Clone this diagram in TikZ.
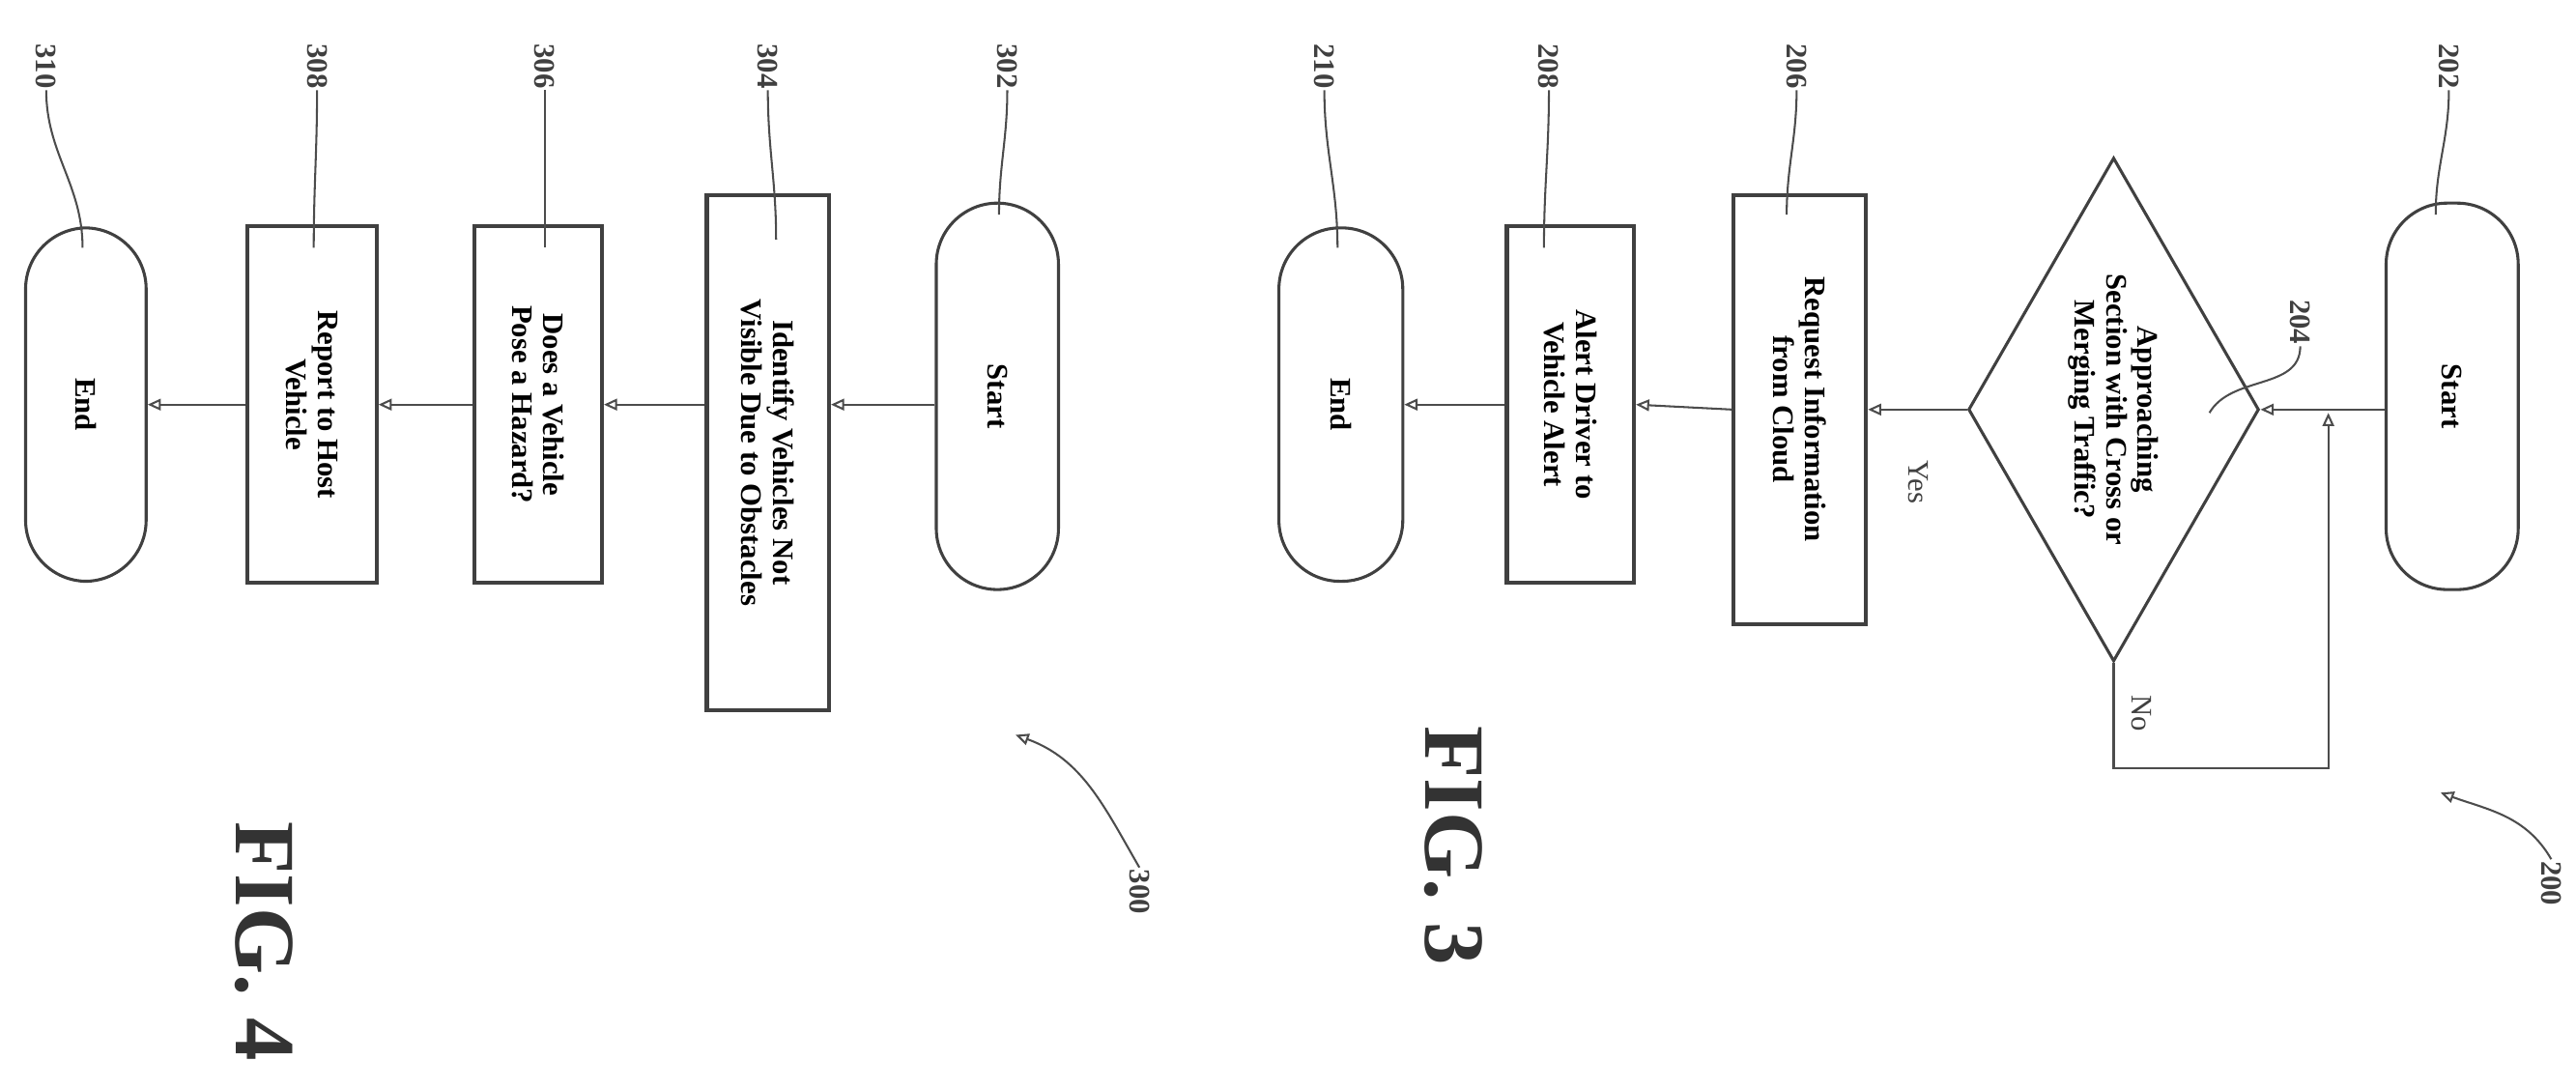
\documentclass[tikz,border=0pt]{standalone}
\usepackage{fontspec}
\setmainfont{Liberation Serif}
\usetikzlibrary{shapes.geometric,arrows.meta,positioning}
\tikzset{
  box/.style={draw=black!75,line width=2.4pt,rotate=-90,align=center,font=\fontsize{18}{19}\selectfont\bfseries,inner sep=0pt},
  term/.style={box,rounded corners=37pt,line width=1.8pt},
  ref/.style={rotate=-90,font=\fontsize{18}{18}\selectfont\bfseries,text=black!75,inner sep=1pt},
  lead/.style={draw=black!70,line width=1.2pt},
  flow/.style={draw=black!70,line width=1.2pt,-{Triangle[open,length=8pt,width=7pt]}},
  fig/.style={rotate=-90,font=\fontsize{52}{52}\selectfont\bfseries,text=black!80}
}
\begin{document}
\begin{tikzpicture}[x=1pt,y=-1pt]
\useasboundingbox (0,0) rectangle (1560,660);
% FIG 3
\node[term,minimum width=234,minimum height=80] (s2) at (1485,240) {Start};
\node[box,diamond,line width=1.8pt,minimum width=305,minimum height=176,inner sep=-30pt] (d2) at (1280,248) {Approaching\\Section with Cross or\\Merging Traffic?};
\node[box,minimum width=260,minimum height=80] (r2) at (1090,248) {Request Information\\from Cloud};
\node[box,minimum width=216,minimum height=77] (a2) at (951,245) {Alert Driver to\\Vehicle Alert};
\node[term,minimum width=214,minimum height=75] (e2) at (812,245) {End};
\draw[flow] (s2.south |- d2.north) -- (d2.north);
\draw[flow] (d2.south) -- (r2.north);
\node[rotate=-90,font=\fontsize{18}{18}\selectfont,text=black!75] (yesl) at (1162,292) {Yes};
\draw[flow] (r2.south) -- (a2.north);
\draw[flow] (a2.south) -- (e2.north);
\coordinate (n1) at (1280,465);
\coordinate (n2) at (1410,465);
\coordinate (n3) at (1410,250);
\draw[flow] (d2.east) -- (n1) -- (n2) -- (n3);
\node[rotate=-90,font=\fontsize{18}{18}\selectfont,text=black!75] (nol) at (1297,432) {No};
\node[ref] (l202) at (1483,40) {202};
\node[ref] (l204) at (1393,195) {204};
\node[ref] (l206) at (1088,40) {206};
\node[ref] (l208) at (938,40) {208};
\node[ref] (l210) at (802,40) {210};
\draw[lead] (l202.east) to[out=-90,in=90] (1475,130);
\draw[lead] (l204.east) to[out=-90,in=60] (1338,250);
\draw[lead] (l206.east) to[out=-90,in=90] (1082,130);
\draw[lead] (l208.east) to[out=-90,in=90] (935,150);
\draw[lead] (l210.east) to[out=-90,in=90] (810,150);
\node[ref] (l200) at (1545,535) {200};
\draw[lead,-{Triangle[open,length=8pt,width=7pt]}] (l200.west) to[out=120,in=-20] (1478,480);
\node[fig] (f3) at (880,512) {FIG. 3};
% FIG 4
\node[term,minimum width=234,minimum height=74] (s3) at (604,240) {Start};
\node[box,minimum width=312,minimum height=74] (i3) at (465,274) {Identify Vehicles Not\\Visible Due to Obstacles};
\node[box,minimum width=216,minimum height=77] (p3) at (326,245) {Does a Vehicle\\Pose a Hazard?};
\node[box,minimum width=216,minimum height=78] (h3) at (189,245) {Report to Host\\Vehicle};
\node[term,minimum width=214,minimum height=73] (e3) at (52,245) {End};
\draw[flow] (s3.south |- p3.north) -- (i3.north |- p3.north);
\draw[flow] (i3.south |- p3.north) -- (p3.north);
\draw[flow] (p3.south) -- (h3.north);
\draw[flow] (h3.south) -- (e3.north);
\node[ref] (l302) at (610,40) {302};
\node[ref] (l304) at (465,40) {304};
\node[ref] (l306) at (330,40) {306};
\node[ref] (l308) at (192,40) {308};
\node[ref] (l310) at (28,40) {310};
\draw[lead] (l302.east) to[out=-90,in=90] (605,130);
\draw[lead] (l304.east) to[out=-90,in=90] (470,145);
\draw[lead] (l306.east) to[out=-90,in=90] (330,150);
\draw[lead] (l308.east) to[out=-90,in=90] (190,150);
\draw[lead] (l310.east) to[out=-90,in=90] (50,150);
\node[ref] (l300) at (690,540) {300};
\draw[lead,-{Triangle[open,length=8pt,width=7pt]}] (l300.west) to[out=120,in=-20] (615,445);
\node[fig] (f4) at (160,570) {FIG. 4};
\end{tikzpicture}
\end{document}
